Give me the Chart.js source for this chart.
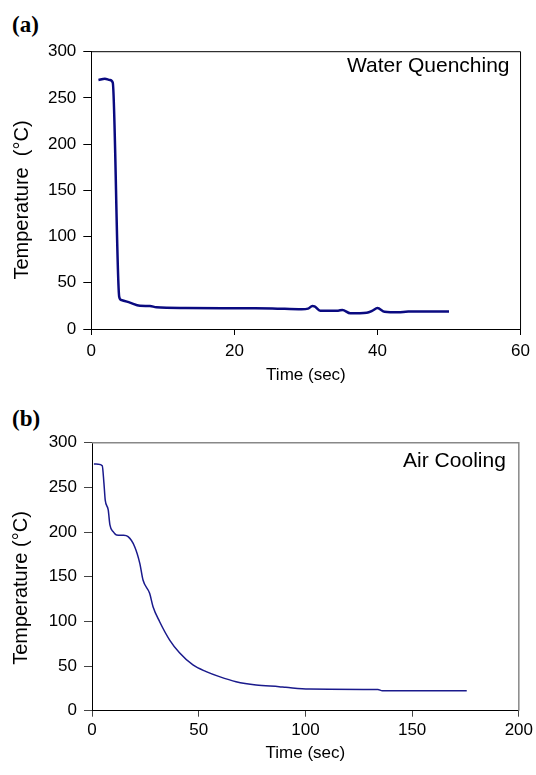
<!DOCTYPE html>
<html>
<head>
<meta charset="utf-8">
<script src="https://cdn.jsdelivr.net/npm/chart.js@4.4.1/dist/chart.umd.min.js"></script>
<style>
  body { margin: 0; background: #fff; width: 536px; height: 775px; overflow: hidden; position: relative; }
  canvas { position: absolute; left: 0; }
  .tag { position: absolute; left: 12px; font: bold 23px "Liberation Serif", "Times New Roman", serif; line-height: 1; }
</style>
</head>
<body>
<div class="tag" style="top:13px">(a)</div>
<div class="tag" style="top:407px">(b)</div>
<canvas id="graphique1" width="536" height="400" style="top:0"></canvas>
<canvas id="graphique2" width="536" height="375" style="top:400px"></canvas>
<script>
// (a) trempe a l'eau
let tempsA = [1.0, 1.9, 2.6, 3.0, 3.9, 4.2, 5.4, 6.8, 8.2, 9.1, 13.2, 22, 25.3, 29.4, 30.3, 30.9, 31.2, 32, 34.5, 35.1, 36.2, 38.5, 39.3, 40, 41, 42.9, 44.3, 50];
let tempA  = [269.4, 270.8, 269.4, 266.5, 35, 31.4, 28.5, 25.2, 24.9, 23.5, 22.7, 22.4, 22.2, 21.3, 22, 24.9, 24.5, 19.8, 19.8, 20.6, 17, 17.6, 19.8, 22.7, 18.7, 18, 19, 19];

// (b) refroidissement a l'air
let tempsB = [0.9, 2.9, 4.8, 5.6, 6.2, 7.6, 8.4, 9.9, 11.5, 14.6, 16.9, 20, 22.4, 23.9, 27, 28.6, 31.7, 36.4, 41, 47.3, 53.5, 59.7, 67.5, 76.9, 87.7, 90.8, 101.7, 134, 136, 175.6];
let tempB  = [276.2, 276, 274.3, 254.5, 235.8, 224.7, 207.9, 200.4, 196.7, 196.3, 194.8, 183.6, 165, 146.3, 131.4, 116.4, 99.6, 79.1, 64.9, 51.2, 43.7, 38.1, 32.5, 28.8, 26.9, 26.2, 24.2, 23.8, 22.4, 22.4];

let ticksY = [0, 50, 100, 150, 200, 250, 300];
let axeXA = [0, 60, 20];
let axeXB = [0, 200, 50];

const police = '"Liberation Sans", Arial, sans-serif';

// cadre haut/droite, texte dans le graphique, titre de l'axe Y
const cadre = {
    id: 'cadre',
    afterDraw(chart, args, o) {
        const ctx = chart.ctx, a = chart.chartArea;
        ctx.save();
        ctx.strokeStyle = o.couleur;
        ctx.lineWidth = o.epaisseur;
        ctx.beginPath();
        ctx.moveTo(a.left, a.top);
        ctx.lineTo(a.right, a.top);
        ctx.lineTo(a.right, a.bottom);
        ctx.stroke();

        ctx.fillStyle = '#000';
        ctx.font = '21px ' + police;
        ctx.textAlign = 'right';
        ctx.textBaseline = 'alphabetic';
        ctx.fillText(o.texte, a.right - o.dx, a.top + o.dy);

        ctx.translate(o.tx, o.ty);
        ctx.rotate(-Math.PI / 2);
        ctx.font = '20px ' + police;
        ctx.textAlign = 'center';
        ctx.textBaseline = 'middle';
        ctx.fillText(o.titreY, 0, 0);
        ctx.restore();
    }
};

function graphique(id, xs, ys, axeX, opt) {
    var ctx = document.getElementById(id).getContext('2d');
    return new Chart(ctx, {
        type: 'line',
        data: {
            datasets: [{
                data: xs.map((t, i) => ({x: t, y: ys[i]})),
                borderColor: opt.couleur,
                borderWidth: opt.largeur,
                pointRadius: 0,
                cubicInterpolationMode: 'monotone',
                fill: false
            }]
        },
        options: {
            responsive: false,
            animation: false,
            layout: { padding: { top: opt.haut, right: opt.droite, left: 0, bottom: 0 } },
            plugins: {
                legend: { display: false },
                tooltip: { enabled: false },
                cadre: opt.cadre
            },
            scales: {
                x: {
                    type: 'linear',
                    min: axeX[0],
                    max: axeX[1],
                    ticks: { stepSize: axeX[2], color: '#000', padding: opt.padX, font: { family: police, size: 17 } },
                    grid: { drawOnChartArea: false, drawTicks: true, tickLength: 6, color: opt.trait },
                    border: { color: '#000', width: 1 },
                    title: { display: true, text: 'Time (sec)', color: '#000', font: { family: police, size: 17 }, padding: { top: 0, bottom: opt.titreX } },
                    afterFit(s) { s.height = opt.hautX; }
                },
                y: {
                    min: 0,
                    max: 300,
                    afterBuildTicks(s) { s.ticks = ticksY.map(v => ({value: v})); },
                    ticks: { color: '#000', padding: 7, font: { family: police, size: 17 } },
                    grid: { drawOnChartArea: false, drawTicks: true, tickLength: 8, color: opt.trait },
                    border: { color: '#000', width: 1 },
                    afterFit(s) { s.width = opt.largeY; }
                }
            }
        },
        plugins: [cadre]
    });
}

graphique('graphique1', tempsA, tempA, axeXA, {
    couleur: '#0a0a80', largeur: 2.5, haut: 51.7, droite: 12.7, hautX: 71, largeY: 91.3,
    padX: 6, titreX: 14, trait: '#000',
    cadre: { couleur: '#000', epaisseur: 1, texte: 'Water Quenching', dx: 11, dy: 20, titreY: 'Temperature  (°C)', tx: 22, ty: 200 }
});

graphique('graphique2', tempsB, tempB, axeXB, {
    couleur: '#1a1a8c', largeur: 1.5, haut: 42.7, droite: 15.3, hautX: 64.3, largeY: 92,
    padX: 3, titreX: 11, trait: '#444',
    cadre: { couleur: '#888', epaisseur: 1.5, texte: 'Air Cooling', dx: 13, dy: 24, titreY: 'Temperature (°C)', tx: 21, ty: 188 }
});
</script>
</body>
</html>
